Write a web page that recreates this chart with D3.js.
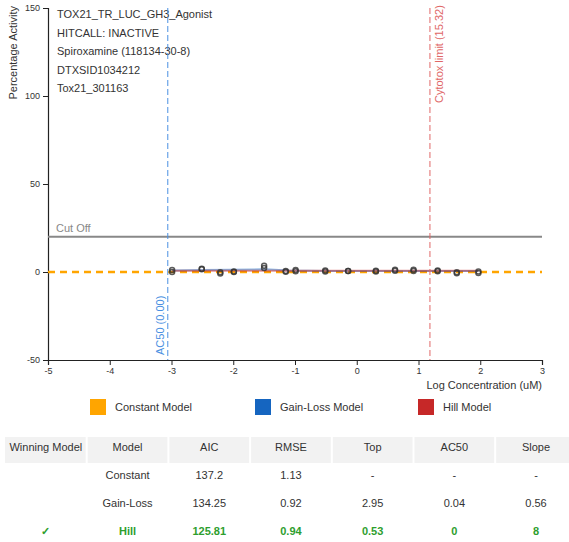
<!DOCTYPE html>
<html><head><meta charset="utf-8">
<script src="https://cdn.jsdelivr.net/npm/d3@7"></script>
<style>
body{margin:0;background:#fff;font-family:"Liberation Sans",Arial,sans-serif;}
svg{display:block}
</style></head>
<body><svg id="c" width="569" height="542"></svg>
<script>
const infoLines = ["TOX21_TR_LUC_GH3_Agonist","HITCALL: INACTIVE","Spiroxamine (118134-30-8)","DTXSID1034212","Tox21_301163"];
const xTicks = [-5,-4,-3,-2,-1,0,1,2,3];
const yTicks = [150,100,50,0,-50];
// observed responses (log10 uM concentration, % activity)
const pointLogConc = [-2.99,-2.99,-2.51,-2.51,-2.21,-2.21,-1.99,-1.99,-1.50,-1.50,-1.15,-1.15,-0.99,-0.99,-0.51,-0.51,-0.14,-0.14,0.31,0.31,0.62,0.62,0.92,0.92,1.31,1.31,1.62,1.62,1.97,1.97];
const pointResp    = [1.2,0.0,1.9,1.5,-0.2,-0.9,0.3,0.0,3.6,2.3,0.5,0.2,1.1,0.4,0.9,0.3,0.6,0.5,0.7,0.3,1.3,0.7,1.3,0.6,0.9,0.4,-0.2,-0.7,0.3,-0.5];
// fitted curves
const gainLossLogConc = [-2.99,-2.5,-2.0,-1.5,-1.1,-0.5,0.0,1.0,1.97];
const gainLossResp    = [0.9,1.1,1.3,1.5,0.9,0.6,0.5,0.5,0.5];
const hillLogConc = [-2.99,1.97];
const hillResp    = [0.7,0.7];
const constantValue = 0;
const cutOff = 20;
const ac50LineLog = -3.06;
const cytotoxLimit = 15.32;
const legendNames = ["Constant Model","Gain-Loss Model","Hill Model"];
const legendColors = ["#FFA500","#1565C0","#C62828"];
const tableHeader = ["Winning Model","Model","AIC","RMSE","Top","AC50","Slope"];
const tableRows = [
  ["","Constant","137.2","1.13","-","-","-"],
  ["","Gain-Loss","134.25","0.92","2.95","0.04","0.56"],
  ["\u2713","Hill","125.81","0.94","0.53","0","8"]
];
const winningRow = 2;

const svg = d3.select("#c");
const x = d3.scaleLinear().domain([-5,3]).range([48,542]);
const y = d3.scaleLinear().domain([-50,150]).range([360,8]);

// axes
const fmt = d => String(d);
const yAx = svg.append("g").attr("transform","translate(48,0)")
  .call(d3.axisLeft(y).tickValues(yTicks).tickFormat(fmt).tickSize(5).tickPadding(3));
const xAx = svg.append("g").attr("transform","translate(0,360)")
  .call(d3.axisBottom(x).tickValues(xTicks).tickFormat(fmt).tickSize(5).tickPadding(3));
[yAx,xAx].forEach(g=>{
  g.selectAll("text").attr("font-size",9).attr("fill","#333").attr("font-family","Liberation Sans, Arial");
  g.select(".domain").attr("stroke","#222").attr("stroke-width",1.2);
  g.selectAll(".tick line").attr("stroke","#222");
});

svg.append("text").attr("transform","translate(17,6) rotate(-90)")
  .attr("text-anchor","end").attr("font-size",11).attr("fill","#333").text("Percentage Activity");
svg.append("text").attr("x",542).attr("y",389).attr("text-anchor","end")
  .attr("font-size",11).attr("fill","#333").text("Log Concentration (uM)");

// info text
svg.append("g").selectAll("text").data(infoLines).join("text")
  .attr("x",57).attr("y",(d,i)=>18+i*18.5).attr("font-size",11).attr("fill","#333").text(d=>d);

// cut off
svg.append("line").attr("x1",x(-5)).attr("x2",x(3)).attr("y1",y(cutOff)).attr("y2",y(cutOff))
  .attr("stroke","#888").attr("stroke-width",2);
svg.append("text").attr("x",56).attr("y",y(cutOff)-5).attr("font-size",11).attr("fill","#888").text("Cut Off");

// constant
svg.append("line").attr("x1",x(-5)).attr("x2",x(3)).attr("y1",y(constantValue)).attr("y2",y(constantValue))
  .attr("stroke","#FFA500").attr("stroke-width",2.5).attr("stroke-dasharray","7,5");

const line = d3.line().x(d=>x(d[0])).y(d=>y(d[1]));
svg.append("path").datum(gainLossLogConc.map((c,i)=>[c,gainLossResp[i]]))
  .attr("d",line).attr("fill","none").attr("stroke","#1565C0").attr("stroke-opacity",0.5).attr("stroke-width",2);
svg.append("path").datum(hillLogConc.map((c,i)=>[c,hillResp[i]]))
  .attr("d",line).attr("fill","none").attr("stroke","#C62828").attr("stroke-opacity",0.5).attr("stroke-width",2);

svg.append("g").selectAll("circle").data(pointLogConc.map((c,i)=>[c,pointResp[i]])).join("circle")
  .attr("cx",d=>x(d[0])).attr("cy",d=>y(d[1])).attr("r",2.5)
  .attr("fill","none").attr("stroke","#333").attr("stroke-opacity",0.8).attr("stroke-width",1.5);

// AC50 line
svg.append("line").attr("x1",x(ac50LineLog)).attr("x2",x(ac50LineLog)).attr("y1",y(150)).attr("y2",y(-50))
  .attr("stroke","#4A90E2").attr("stroke-width",1).attr("stroke-dasharray","6,3");
svg.append("text").attr("transform",`translate(${x(ac50LineLog)-4},355) rotate(-90)`)
  .attr("font-size",11).attr("fill","#4A90E2").text("AC50 (0.00)");
// cytotox
const cx = x(Math.log10(cytotoxLimit));
svg.append("line").attr("x1",cx).attr("x2",cx).attr("y1",y(150)).attr("y2",y(-50))
  .attr("stroke","#E06666").attr("stroke-width",1).attr("stroke-dasharray","6,3");
svg.append("text").attr("transform",`translate(${cx+13},103) rotate(-90)`)
  .attr("font-size",11).attr("fill","#E06666").text(`Cytotox limit (${cytotoxLimit})`);

// legend
const lx = [90,255,418];
const lg = svg.append("g").selectAll("g").data(legendNames).join("g")
  .attr("transform",(d,i)=>`translate(${lx[i]},399)`);
lg.append("rect").attr("width",16).attr("height",16).attr("fill",(d,i)=>legendColors[i]);
lg.append("text").attr("x",25).attr("y",12).attr("font-size",11).attr("fill","#333").text(d=>d);

// table
const colW = 81.7, col0 = 5;
svg.append("rect").attr("x",col0).attr("y",437).attr("width",569).attr("height",26).attr("fill","#f2f2f2");
for(let i=1;i<7;i++){
  svg.append("line").attr("x1",col0+i*colW).attr("x2",col0+i*colW).attr("y1",437).attr("y2",463)
    .attr("stroke","#fff").attr("stroke-width",2);
}
svg.append("g").selectAll("text").data(tableHeader).join("text")
  .attr("x",(d,i)=>col0+colW*(i+0.5)).attr("y",451).attr("text-anchor","middle")
  .attr("font-size",11).attr("fill","#333").text(d=>d);
tableRows.forEach((row,r)=>{
  const win = r===winningRow;
  svg.append("g").selectAll("text").data(row).join("text")
    .attr("x",(d,i)=>col0+colW*(i+0.5)).attr("y",479+r*28).attr("text-anchor","middle")
    .attr("font-size",11).attr("fill",win?"#2E9E2E":"#333").attr("font-weight",win?"bold":"normal").text(d=>d);
});
</script></body></html>
